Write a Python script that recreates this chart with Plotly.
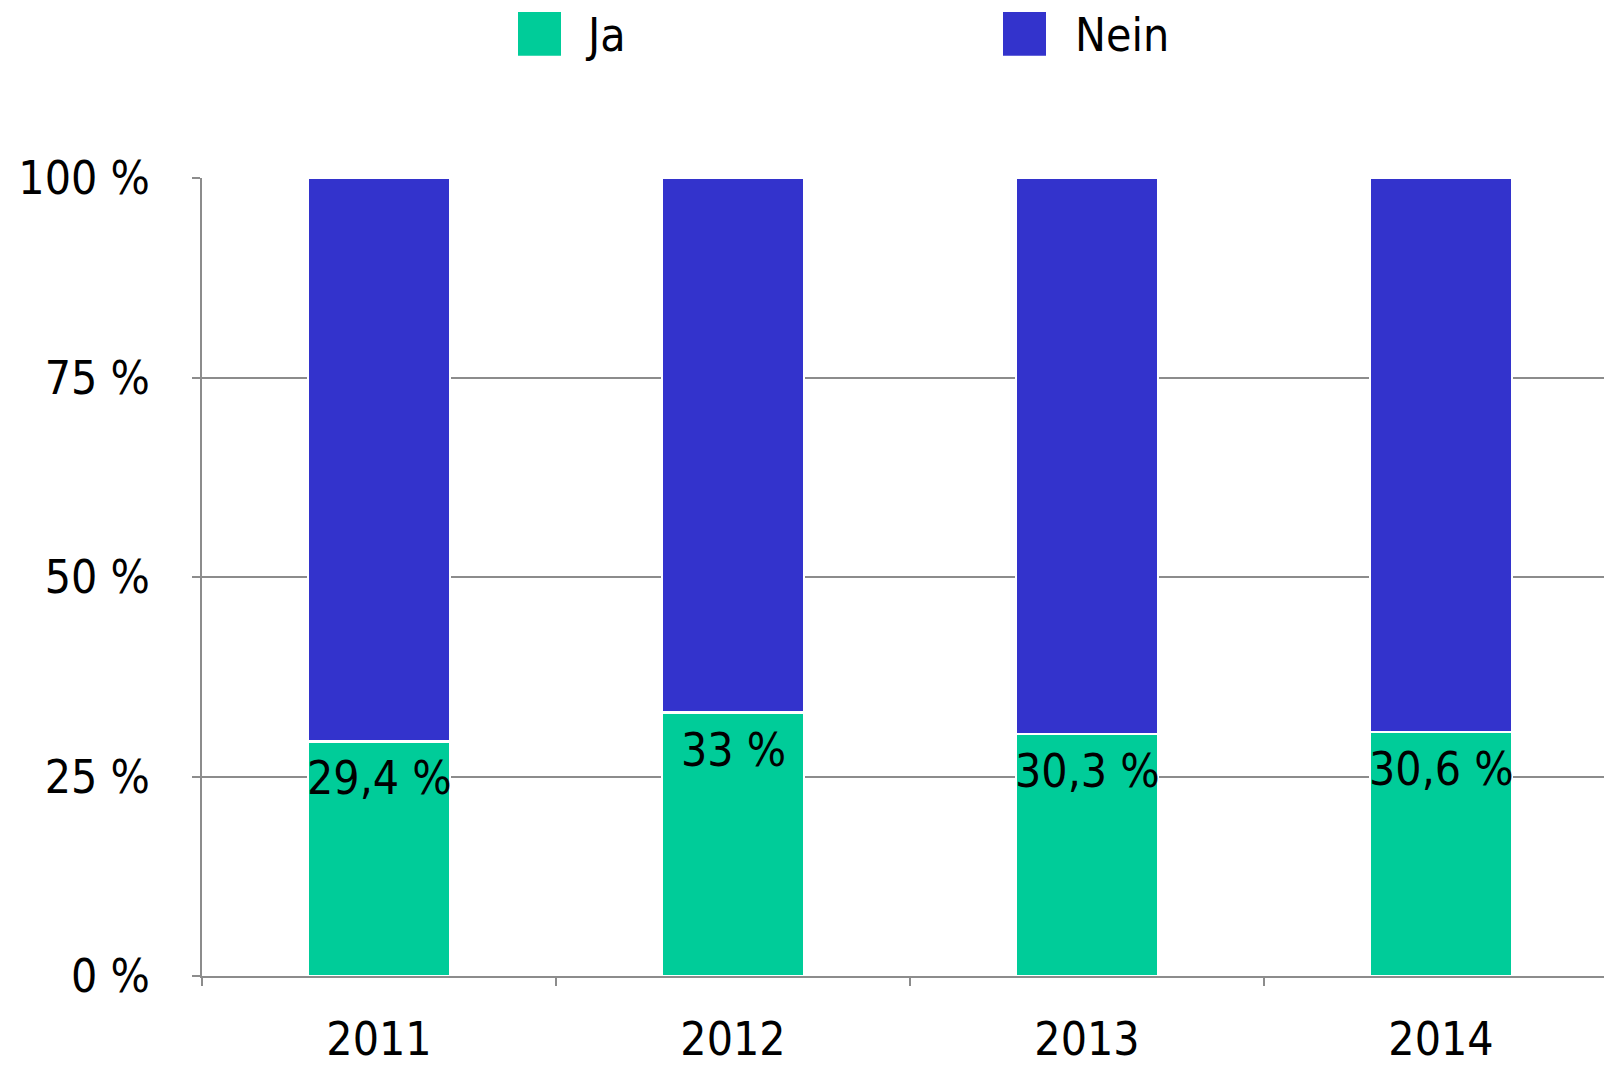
import plotly.graph_objects as go

years = ["2011", "2012", "2013", "2014"]
ja = [29.4, 33.0, 30.3, 30.6]
nein = [70.6, 67.0, 69.7, 69.4]
series_names = ["Ja", "Nein"]
series_colors = ["#00CC99", "#3333CC"]
y_ticks = [0, 25, 50, 75, 100]
y_tick_labels = ["0 %", "25 %", "50 %", "75 %", "100 %"]

FONT = "DejaVu Sans Condensed, DejaVu Sans, Liberation Sans, sans-serif"
GRAY = "#8C8C8C"
FS = 46

def fmt(v):
    s = ("%.1f" % v).rstrip("0").rstrip(".")
    return s.replace(".", ",") + " %"

fig = go.Figure()
for name, vals, col in zip(series_names, [ja, nein], series_colors):
    fig.add_trace(go.Bar(
        x=years, y=vals, name=name, width=0.4,
        marker=dict(color=col, line=dict(color="white", width=2.5)),
        showlegend=False, hoverinfo="skip",
    ))

# value labels for Ja (x given as category index)
for i, v in enumerate(ja):
    fig.add_annotation(x=i, y=v, xref="x", yref="y", text=fmt(v), showarrow=False,
                       yanchor="middle", yshift=-37,
                       font=dict(family=FONT, size=FS, color="black"))

# page geometry (page body has an 8px margin)
OFF = 8
W, H = 1612 - OFF, 1066 - OFF
L, T, B = 202, 178, 981          # plot area edges in page pixels
pw, ph = 1612 - L, B - T
def px(xp): return (xp - L) / pw
def py(yp): return (B - yp) / ph

leg_sq_x = [518, 1003]
leg_tx_x = [583, 1073]
for name, col, sx, tx in zip(series_names, series_colors, leg_sq_x, leg_tx_x):
    fig.add_shape(type="rect", xref="paper", yref="paper",
                  x0=px(sx), x1=px(sx + 43), y0=py(55), y1=py(11),
                  fillcolor=col, line=dict(width=0))
    fig.add_annotation(xref="paper", yref="paper", x=px(tx), y=py(34),
                       xanchor="left", yanchor="middle", text=name,
                       showarrow=False,
                       font=dict(family=FONT, size=FS, color="black"))

fig.update_layout(
    width=W, height=H,
    barmode="stack",
    plot_bgcolor="white", paper_bgcolor="white",
    margin=dict(l=L - OFF, r=0, t=T - OFF, b=H + OFF - B),
    font=dict(family=FONT, size=FS, color="black"),
    xaxis=dict(
        type="category",
        range=[-0.5, -0.5 + pw / 354.0],
        showline=True, linecolor=GRAY, linewidth=2,
        ticks="outside", tickson="boundaries", ticklen=8, tickcolor=GRAY, tickwidth=2,
        showgrid=False, tickfont=dict(size=FS), ticklabelstandoff=22,
    ),
    yaxis=dict(
        range=[0, 100], tickvals=y_ticks, ticktext=y_tick_labels,
        showline=True, linecolor=GRAY, linewidth=2,
        showgrid=True, gridcolor=GRAY, gridwidth=2,
        ticks="outside", ticklen=8, tickcolor=GRAY, tickwidth=2,
        tickfont=dict(size=FS), zeroline=False, ticklabelstandoff=33,
    ),
)

fig.write_html("out.html")
